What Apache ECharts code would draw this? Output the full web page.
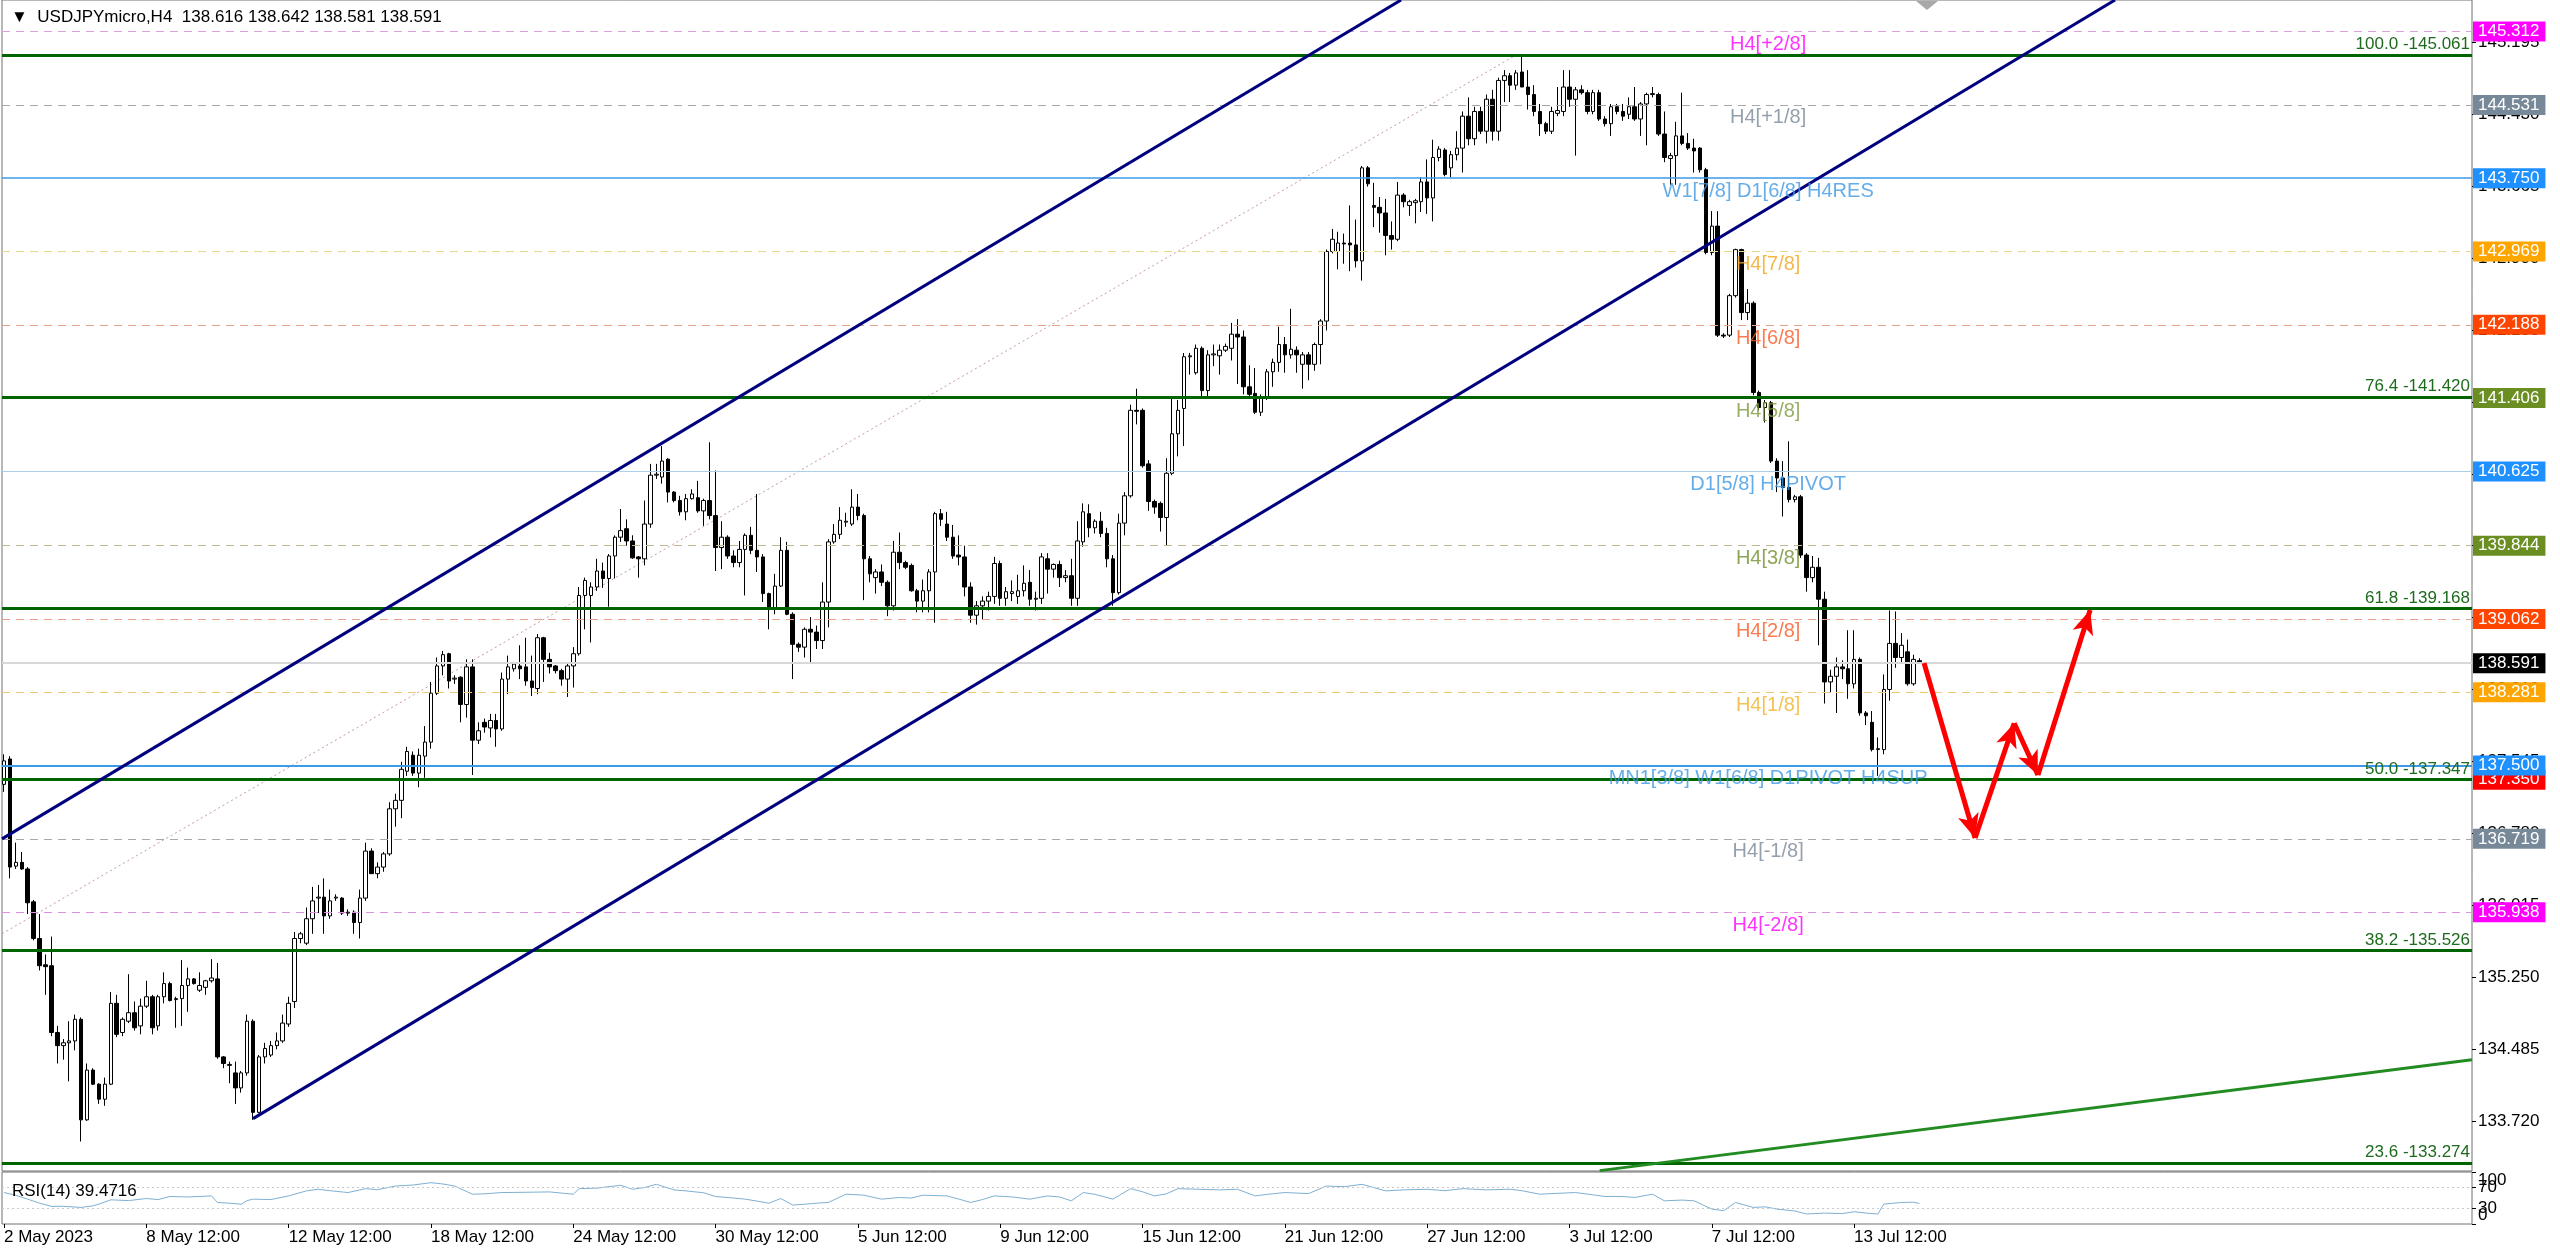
<!DOCTYPE html>
<html><head><meta charset="utf-8">
<script src="https://cdn.jsdelivr.net/npm/echarts@6/dist/echarts.min.js"></script>
<style>html,body{margin:0;padding:0;background:#fff;overflow:hidden}#c{width:2560px;height:1251px}</style>
</head><body><div id="c"></div>
<script>
// ---------------- DATA ----------------
const symbolName = 'USDJPYmicro,H4';
const timeLabels = ['2 May 2023','8 May 12:00','12 May 12:00','18 May 12:00','24 May 12:00','30 May 12:00','5 Jun 12:00','9 Jun 12:00','15 Jun 12:00','21 Jun 12:00','27 Jun 12:00','3 Jul 12:00','7 Jul 12:00','13 Jul 12:00'];
const timeLabelBars = [0,24,48,72,96,120,144,168,192,216,240,264,288,312];
const priceTicks = [133.720,134.485,135.250,136.015,136.780,137.545,138.310,139.075,139.840,140.605,141.370,142.135,142.900,143.665,144.430,145.195];
const rsiEdgeTicks = [0,100];
const rsiLevels = [30, 70];
// H4 candles: [open, high, low, close]
const ohlc = [
[137.30,137.62,137.22,137.55],[137.57,137.60,136.30,136.42],[136.43,136.68,136.40,136.47],[136.47,136.58,136.39,136.40],[136.40,136.42,135.92,136.04],
[136.05,136.07,135.64,135.66],[135.66,135.92,135.32,135.37],[135.38,135.49,135.06,135.36],[135.37,135.68,134.62,134.66],[134.66,134.73,134.33,134.52],
[134.52,134.59,134.37,134.55],[134.55,134.78,134.14,134.57],[134.57,134.85,134.47,134.80],[134.80,134.82,133.50,133.73],[133.73,134.33,133.72,134.26],
[134.26,134.28,134.10,134.11],[134.11,134.12,133.90,133.95],[133.95,134.18,133.88,134.11],[134.11,135.09,134.10,134.97],[134.97,135.06,134.61,134.64],
[134.66,134.82,134.62,134.80],[134.78,135.28,134.76,134.87],[134.87,134.99,134.68,134.71],[134.73,135.02,134.64,134.94],[134.94,135.21,134.92,135.04],
[135.04,135.06,134.64,134.71],[134.73,135.06,134.68,135.04],[135.04,135.30,134.97,135.18],[135.18,135.20,134.99,135.00],[135.01,135.04,134.71,135.02],
[135.02,135.43,134.73,135.16],[135.16,135.35,134.88,135.23],[135.23,135.24,135.17,135.18],[135.11,135.30,135.09,135.16],[135.14,135.22,135.06,135.21],
[135.21,135.44,135.19,135.24],[135.23,135.40,134.38,134.40],[134.40,134.41,134.28,134.33],[134.31,134.35,134.12,134.32],[134.23,134.35,133.90,134.07],
[134.07,134.25,134.02,134.23],[134.23,134.85,134.20,134.78],[134.78,134.80,133.73,133.81],[133.81,134.42,133.80,134.40],[134.40,134.55,134.33,134.49],
[134.42,134.57,134.40,134.52],[134.52,134.66,134.48,134.57],[134.57,134.85,134.55,134.76],[134.75,135.04,134.72,134.97],[134.99,135.73,134.92,135.66],
[135.66,135.73,135.61,135.71],[135.61,135.99,135.59,135.87],[135.87,136.21,135.71,136.06],[136.09,136.23,135.93,136.10],[136.10,136.30,135.71,135.90],
[135.90,136.18,135.87,136.06],[136.09,136.13,136.06,136.10],[136.09,136.10,135.91,135.93],[135.93,135.97,135.90,135.94],[135.94,135.96,135.71,135.83],
[135.83,136.18,135.66,136.09],[136.09,136.68,136.06,136.59],[136.59,136.62,136.35,136.35],[136.35,136.47,136.30,136.42],[136.42,136.58,136.37,136.56],
[136.56,137.11,136.54,137.04],[137.04,137.20,136.85,137.13],[137.13,137.54,136.94,137.46],[137.44,137.70,137.39,137.65],[137.61,137.65,137.39,137.42],
[137.42,137.68,137.27,137.61],[137.60,137.92,137.37,137.75],[137.75,138.39,137.68,138.27],[138.27,138.65,138.25,138.56],[138.56,138.72,138.46,138.68],
[138.69,138.70,138.32,138.40],[138.42,138.46,138.37,138.43],[138.44,138.45,137.96,138.15],[138.15,138.63,138.01,138.55],[138.55,138.63,137.40,137.77],
[137.77,137.96,137.73,137.87],
[137.96,138.00,137.85,137.91],[137.90,138.05,137.80,137.98],[137.98,138.05,137.70,137.89],[137.89,138.49,137.87,138.42],[138.42,138.67,138.26,138.55],
[138.53,138.60,138.50,138.58],[138.56,138.78,138.42,138.53],[138.55,138.86,138.35,138.40],[138.40,138.67,138.24,138.33],[138.32,138.90,138.26,138.86],
[138.86,138.87,138.39,138.63],[138.63,138.70,138.48,138.55],[138.56,138.57,138.48,138.51],[138.51,138.53,138.35,138.42],[138.42,138.58,138.23,138.56],
[138.56,138.76,138.33,138.69],[138.69,139.40,138.67,139.31],[139.31,139.50,138.95,139.47],[139.31,139.45,138.81,139.40],[139.40,139.70,139.36,139.57],
[139.57,139.66,139.39,139.49],[139.49,139.75,139.19,139.73],[139.73,139.95,139.49,139.93],[139.93,140.23,139.88,140.00],[140.02,140.12,139.84,139.89],
[139.89,139.95,139.70,139.71],[139.72,139.73,139.50,139.70],[139.70,140.32,139.63,140.07],[140.07,140.71,140.03,140.59],[140.59,140.71,140.55,140.60],
[140.57,140.90,140.50,140.74],[140.76,140.77,140.30,140.41],[140.41,140.42,140.30,140.32],[140.32,140.37,140.16,140.20],[140.20,140.39,140.11,140.34],
[140.34,140.44,140.33,140.39],[140.35,140.53,140.19,140.21],[140.21,140.34,140.05,140.32],[140.32,140.94,140.12,140.16],[140.16,140.64,139.57,139.82],
[139.82,140.10,139.59,139.93],[139.93,139.95,139.70,139.73],[139.73,139.79,139.61,139.66],[139.66,139.89,139.61,139.80],[139.80,139.97,139.31,139.95],
[139.95,140.04,139.75,139.79],[139.79,140.39,139.56,139.72],[139.72,139.75,139.24,139.33],[139.33,139.34,138.95,139.18],[139.18,139.54,139.11,139.41],
[139.41,139.93,139.40,139.79],[139.79,139.88,139.10,139.11],[139.11,139.13,138.42,138.79],[138.79,138.81,138.71,138.76],[138.76,138.97,138.65,138.95],
[138.95,139.08,138.60,138.92],[138.92,138.99,138.74,138.83],[138.83,139.45,138.74,139.24],[139.24,139.91,138.97,139.88],[139.88,140.07,139.86,139.96],
[139.96,140.25,139.91,140.11],[140.09,140.19,140.04,140.10],[140.07,140.44,140.05,140.25],[140.25,140.39,140.11,140.16],[140.16,140.18,139.26,139.70],
[139.70,139.73,139.45,139.54],[139.50,139.59,139.33,139.56],[139.56,139.64,139.41,139.45],[139.45,139.47,139.09,139.20],[139.20,139.89,139.15,139.77],
[139.77,139.98,139.59,139.66],[139.66,139.68,139.59,139.61],[139.63,139.65,139.35,139.36],[139.36,139.38,139.13,139.25],[139.25,139.48,139.13,139.36],
[139.36,139.59,139.13,139.56],[139.56,140.20,139.02,140.18],[140.18,140.23,140.05,140.12],[140.07,140.20,139.89,139.93],[139.93,140.06,139.70,139.73],
[139.74,139.95,139.63,139.72],
[139.72,139.84,139.30,139.40],[139.40,139.45,139.02,139.10],[139.10,139.25,139.00,139.20],[139.20,139.30,139.05,139.25],[139.25,139.35,139.15,139.30],
[139.30,139.72,139.22,139.65],[139.65,139.68,139.20,139.28],[139.28,139.40,139.20,139.35],[139.33,139.47,139.25,139.35],[139.30,139.53,139.22,139.36],
[139.36,139.63,139.30,139.44],[139.45,139.58,139.20,139.27],[139.27,139.35,139.15,139.28],[139.28,139.76,139.22,139.72],[139.70,139.76,139.33,139.59],
[139.59,139.65,139.50,139.64],[139.64,139.68,139.40,139.50],[139.50,139.58,139.45,139.52],[139.52,139.70,139.20,139.28],[139.28,140.10,139.20,139.89],
[139.88,140.29,139.83,140.20],[140.18,140.28,139.93,140.03],[140.03,140.12,139.97,140.10],[140.10,140.20,139.93,139.97],[139.97,140.03,139.61,139.70],
[139.70,139.74,139.20,139.34],[139.34,140.18,139.32,140.08],[140.08,140.41,139.95,140.37],[140.37,141.34,140.35,141.28],[141.28,141.51,141.13,141.27],
[141.28,141.30,140.67,140.69],[140.71,140.75,140.21,140.31],[140.31,140.33,140.18,140.25],[140.29,140.31,139.99,140.14],[140.14,140.77,139.84,140.61],
[140.61,141.41,140.59,141.03],[141.03,141.39,140.79,141.28],[141.30,141.89,140.90,141.85],[141.85,141.89,141.66,141.86],[141.68,141.98,141.66,141.94],
[141.94,141.96,141.43,141.49],[141.49,141.92,141.43,141.87],[141.87,141.98,141.75,141.88],[141.86,141.98,141.66,141.92],[141.92,141.99,141.90,141.96],
[141.94,142.21,141.81,142.09],[142.09,142.25,141.56,142.06],[142.06,142.13,141.45,141.53],[141.53,141.76,141.43,141.45],[141.46,141.73,141.24,141.26],
[141.26,141.45,141.22,141.41],[141.41,141.72,141.39,141.69],[141.69,141.83,141.53,141.79],[141.79,142.17,141.69,141.98],[141.98,142.06,141.68,141.87],
[141.87,142.36,141.83,141.93],[141.92,141.96,141.68,141.87],[141.77,141.90,141.51,141.87],[141.87,141.90,141.60,141.77],[141.77,142.00,141.70,141.98],
[141.98,142.25,141.77,142.23],[142.23,142.99,142.13,142.97],[142.97,143.21,142.95,143.10],[142.97,143.18,142.78,143.06],[143.06,143.16,142.84,143.05],
[143.06,143.46,142.76,143.04],[143.04,143.31,142.80,142.87],[142.87,143.88,142.66,143.86],[143.86,143.88,143.66,143.69],[143.46,143.70,143.23,143.44],
[143.44,143.55,143.17,143.38],[143.38,143.53,142.93,143.14],[143.14,143.29,142.99,143.10],[143.10,143.71,143.08,143.57],[143.57,143.59,143.44,143.50],
[143.46,143.52,143.35,143.50],[143.49,143.53,143.27,143.51],[143.50,143.76,143.39,143.71],[143.71,143.95,143.37,143.54],[143.54,144.16,143.29,143.97],
[143.97,144.09,143.93,144.06],
[144.05,144.07,143.77,143.79],[143.86,144.04,143.76,144.00],[144.00,144.25,143.94,144.07],[144.07,144.46,143.81,144.41],[144.41,144.61,144.10,144.17],
[144.17,144.51,144.10,144.46],[144.46,144.51,144.22,144.25],[144.25,144.64,144.12,144.59],[144.59,144.69,144.15,144.25],[144.25,144.82,144.15,144.79],
[144.79,144.90,144.56,144.84],[144.84,144.87,144.56,144.74],[144.74,144.90,144.69,144.87],[144.88,145.05,144.72,144.72],[144.72,144.90,144.48,144.64],
[144.64,144.74,144.41,144.46],[144.46,144.54,144.20,144.33],[144.33,144.35,144.22,144.25],[144.25,144.51,144.22,144.46],[144.44,144.72,144.41,144.47],
[144.46,144.90,144.41,144.72],[144.72,144.90,144.51,144.59],[144.59,144.72,143.99,144.69],[144.69,144.74,144.64,144.66],[144.66,144.69,144.43,144.46],
[144.46,144.69,144.43,144.66],[144.66,144.69,144.36,144.38],[144.38,144.41,144.30,144.33],[144.33,144.54,144.20,144.51],[144.51,144.54,144.43,144.46],
[144.46,144.54,144.36,144.41],[144.43,144.61,144.38,144.51],[144.51,144.72,144.36,144.38],[144.38,144.56,144.20,144.54],[144.54,144.66,144.10,144.64],
[144.64,144.72,144.61,144.65],[144.64,144.66,144.20,144.22],[144.22,144.46,143.92,143.97],[143.96,144.02,143.68,143.99],[143.99,144.35,143.68,144.20],
[144.20,144.66,144.10,144.12],[144.12,144.23,144.05,144.07],[144.07,144.17,143.81,144.04],[144.07,144.08,143.81,143.84],[143.84,143.86,142.94,142.96],
[142.96,143.40,142.93,143.24],[143.24,143.40,142.06,142.08],[142.08,142.10,142.05,142.07],[142.08,142.52,142.06,142.50],[142.50,143.00,142.48,142.99],
[142.99,143.00,142.24,142.32],[142.32,142.57,142.24,142.42],[142.42,142.44,141.44,141.47],[141.47,141.49,141.28,141.31],[141.31,141.39,141.15,141.36],
[141.36,141.38,140.72,140.74],[140.74,140.77,140.41,140.56],[140.56,140.74,140.15,140.46],[140.46,140.95,140.30,140.33],[140.33,140.38,140.30,140.36],
[140.36,140.38,139.71,139.74],[139.74,139.76,139.35,139.50],[139.50,139.73,139.45,139.61],[139.61,139.71,138.78,139.27],[139.27,139.35,138.16,138.39],
[138.39,138.52,138.28,138.45],[138.45,138.65,138.06,138.55],[138.55,138.62,138.42,138.53],[138.53,138.94,138.21,138.37],[138.37,138.94,138.32,138.63],
[138.63,138.65,138.03,138.06],[138.06,138.08,137.93,138.03],[137.96,138.08,137.65,137.67],[137.67,137.80,137.39,137.68],[137.67,138.47,137.62,138.31],
[138.31,139.15,138.19,138.80],[138.80,139.14,138.54,138.65],[138.65,138.91,138.60,138.78],[138.71,138.84,138.35,138.37],[138.37,138.68,138.35,138.63],
[138.616,138.642,138.581,138.591]
];
// RSI(14) readings [bar, value]
const rsiPoints = [[0,60.5],[2,55],[4,47.8],[6,40],[8,33.8],[10,34],[13,31.9],[15,35],[16,38.3],[18,46.5],[21,45],[24,49],[26,47],[28,52.9],[31,52],[35,54],[36,41.4],[38,40],[40,38],[41,45],[42,47.8],[45,47],[48,54],[51,63.7],[53,66.8],[55,64],[58,60.5],[61,68],[63,66],[66,73],[69,75],[72,79.5],[74,77],[76,73],[79,57.3],[81,58],[84,60.5],[88,61],[92,61.7],[96,57.3],[97,68],[100,69],[104,74.4],[106,66.8],[108,70],[110,76.3],[113,65.6],[115,63.7],[118,60],[120,52.9],[123,50],[125,47.8],[127,44],[129,40],[131,49],[133,36.4],[135,38],[137,40],[139,41.4],[142,57.3],[145,55.4],[148,47.8],[151,51],[153,50],[155,55.4],[159,54],[161,48],[163,41.4],[165,47],[167,54],[170,52],[173,47.8],[176,54],[178,52],[180,44.6],[182,60.5],[184,57],[187,47.8],[190,68],[192,62],[194,54],[196,58],[198,68],[201,67],[205,65.6],[208,66.8],[211,54],[213,57],[216,60.5],[220,58.5],[223,73],[226,71.7],[229,76.3],[231,70],[233,63.7],[236,65.6],[240,66.8],[243,64],[246,68],[250,65.6],[254,66.8],[256,64],[259,57.3],[262,59],[265,60.5],[268,56],[270,52.9],[273,53],[275,51],[278,57.3],[280,44.6],[283,46],[285,44.6],[288,28.7],[290,25.6],[292,41.4],[295,31.9],[297,33],[299,28.7],[302,25],[304,19.2],[307,21],[310,20],[312,23.6],[314,21],[316,19.2],[317,38.3],[320,41.4],[322,42],[323,39.4716]];
const rsiPeriod = 14;
// horizontal levels
const murreyLevels = [145.312,144.531,143.750,142.969,142.188,141.406,140.625,139.844,139.062,138.281,137.500,136.719,135.938];
const murreyNames = ['H4[+2/8]','H4[+1/8]','W1[7/8] D1[6/8] H4RES','H4[7/8]','H4[6/8]','H4[5/8]','D1[5/8] H4PIVOT','H4[3/8]','H4[2/8]','H4[1/8]','MN1[3/8] W1[6/8] D1PIVOT H4SUP','H4[-1/8]','H4[-2/8]'];
const fibLevels = [145.061,141.420,139.168,137.347,135.526,133.274];
const fibNames = ['100.0','76.4','61.8','50.0','38.2','23.6'];
const bidPrice = 138.591;
const redMark = 137.350;
// drawings (anchor points [bar, price])
const upperChannel = [[-0.34,136.72],[235.6,145.646]];
const lowerChannel = [[42,133.743],[356,145.646]];
const fibTrend = [[-0.34,135.71],[255,145.061]];
const greenTrend = [[269.1,133.19],[416.2,134.37]];
const forecastPath = [[323.8,138.59],[332.4,136.73],[339,137.95],[343,137.40],[351.8,139.155]];
const murreyLabelBar = 297.5;

// ---------------- STYLES ----------------
const FONT = 'Liberation Sans, Arial, sans-serif';
const murreyStyle = [
 {line:'#dca0dc',type:[8,6],w:1,text:'#ff00ff',box:'#ff00ff'},
 {line:'#a8a8a8',type:[8,6],w:1,text:'#7a8898',box:'#778899'},
 {line:'#3d9ae8',type:'solid',w:1.5,text:'#3f98e4',box:'#1e90ff'},
 {line:'#e8d890',type:[8,6],w:1,text:'#f3a51d',box:'#ffa500'},
 {line:'#e8a088',type:[8,6],w:1,text:'#f95a24',box:'#ff4500'},
 {line:'#9bb36b',type:[8,6],w:1,text:'#7d9a3c',box:'#6b8e23'},
 {line:'#a8d0ea',type:'solid',w:1,text:'#3f98e4',box:'#1e90ff'},
 {line:'#c0b890',type:[8,6],w:1,text:'#6f8f2c',box:'#6b8e23'},
 {line:'#e8a088',type:[8,6],w:1,text:'#f95a24',box:'#ff4500'},
 {line:'#f0c878',type:[8,6],w:1,text:'#f3b22a',box:'#ffa500'},
 {line:'#3d9ae8',type:'solid',w:2,text:'#3f98e4',box:'#1e90ff'},
 {line:'#a8a8a8',type:[8,6],w:1,text:'#7a8898',box:'#778899'},
 {line:'#e090e0',type:[8,6],w:1,text:'#ff00ff',box:'#ff00ff'}
];
function boxLabel(bg, v){
  const txt = v.toFixed(3);
  return {show:true, position:'end', distance:1, formatter:()=>txt,
    color:'#fff', backgroundColor:bg, padding:[2,6,1,5], fontSize:17, fontFamily:FONT};
}
const axisLbl = {fontSize:17, color:'#000', fontFamily:FONT};

// ---------------- BUILD ----------------
const candleData = ohlc.map((r,i)=>[i, r[0], r[3], r[2], r[1]]);
const last = ohlc[ohlc.length-1];

const levelLines = [];
levelLines.push({yAxis:redMark, lineStyle:{color:'rgba(0,0,0,0)',width:1}, label:boxLabel('#ff0000', redMark)});
murreyLevels.forEach((v,i)=>{
  const s = murreyStyle[i];
  levelLines.push({yAxis:v, lineStyle:{color:s.line,type:s.type,width:s.w}, label:boxLabel(s.box, v)});
});
levelLines.push({yAxis:bidPrice, lineStyle:{color:'#d8d8d8',type:'solid',width:2}, label:boxLabel('#000000', bidPrice)});

const fibLines = fibLevels.map((v,i)=>({yAxis:v, lineStyle:{color:'#006400',width:3,type:'solid'},
  label:{show:true, position:'insideEndTop', distance:2, formatter:fibNames[i]+' -'+v.toFixed(3),
    color:'#1d6b1d', fontSize:17, fontFamily:FONT}}));

const arrowSegs = [];
for(let i=0;i<forecastPath.length-1;i++){
  arrowSegs.push([{coord:forecastPath[i]},{coord:forecastPath[i+1]}]);
}

const X0 = -0.34, X1 = 416.2;

const option = {
  animation:false,
  backgroundColor:'#ffffff',
  title:[
    {text:'\u25BC  '+symbolName+'  '+last.map(v=>v.toFixed(3)).join(' '), left:6, top:4,
     textStyle:{fontSize:17,fontWeight:'normal',color:'#000',fontFamily:FONT}},
    {text:'RSI('+rsiPeriod+') '+rsiPoints[rsiPoints.length-1][1].toFixed(4), left:7, top:1178,
     textStyle:{fontSize:17,fontWeight:'normal',color:'#000',fontFamily:FONT}}
  ],
  grid:[
    {left:2, right:88, top:0, height:1171, show:true, borderColor:'#707070', borderWidth:1, containLabel:false},
    {left:2, right:88, top:1172, height:52, show:true, borderColor:'#707070', borderWidth:1, containLabel:false}
  ],
  xAxis:[
    {type:'value', gridIndex:0, min:X0, max:X1, show:false, axisLine:{onZero:false}},
    {type:'value', gridIndex:1, min:X0, max:X1, position:'bottom',
     axisLine:{show:false, onZero:false}, splitLine:{show:false},
     axisTick:{show:true, customValues:timeLabelBars, length:4, lineStyle:{color:'#000'}},
     axisLabel:Object.assign({show:true, customValues:timeLabelBars, margin:5, align:'left',
       formatter:(v)=>{const k=timeLabelBars.indexOf(Math.round(v)); return k>=0?timeLabels[k]:'';}}, axisLbl)}
  ],
  yAxis:[
    {type:'value', gridIndex:0, position:'right', min:133.186, max:145.646, scale:true,
     axisLine:{show:false, onZero:false}, splitLine:{show:false},
     axisTick:{show:true, customValues:priceTicks, length:4, lineStyle:{color:'#000'}},
     axisLabel:Object.assign({show:true, customValues:priceTicks, margin:6, formatter:v=>Number(v).toFixed(3)}, axisLbl)},
    {type:'value', gridIndex:1, position:'right', min:0, max:100,
     axisLine:{show:false, onZero:false}, splitLine:{show:false},
     axisTick:{show:true, customValues:rsiEdgeTicks, length:4, lineStyle:{color:'#000'}},
     axisLabel:Object.assign({show:true, customValues:rsiEdgeTicks, margin:6,
       showMinLabel:true, showMaxLabel:true,
       verticalAlignMaxLabel:'top', verticalAlignMinLabel:'bottom'}, axisLbl)},
    {type:'value', gridIndex:1, position:'right', min:0, max:100,
     axisLine:{show:false, onZero:false}, splitLine:{show:false},
     axisTick:{show:true, customValues:rsiLevels, length:4, lineStyle:{color:'#000'}},
     axisLabel:Object.assign({show:true, customValues:rsiLevels, margin:6}, axisLbl)}
  ],
  series:[
    {type:'line', xAxisIndex:0, yAxisIndex:0, data:fibTrend, showSymbol:false, symbol:'none', silent:true, z:1,
     lineStyle:{color:'#c99a9a', width:1, type:[2,3]}},
    {type:'line', xAxisIndex:0, yAxisIndex:0, data:[], silent:true, z:2,
     markLine:{silent:true, symbol:['none','none'], animation:false, data:levelLines}},
    {type:'candlestick', xAxisIndex:0, yAxisIndex:0, data:candleData, encode:{x:0, y:[1,2,3,4]},
     barWidth:4, silent:true, z:3, large:false,
     itemStyle:{color:'#ffffff', color0:'#000000', borderColor:'#000000', borderColor0:'#000000', borderWidth:1}},
    {type:'line', xAxisIndex:0, yAxisIndex:0, data:[], silent:true, z:4,
     markLine:{silent:true, symbol:['none','none'], animation:false, data:fibLines}},
    {type:'line', xAxisIndex:0, yAxisIndex:0, data:upperChannel, showSymbol:false, symbol:'none', silent:true, z:5,
     lineStyle:{color:'#00007f', width:3}},
    {type:'line', xAxisIndex:0, yAxisIndex:0, data:lowerChannel, showSymbol:false, symbol:'none', silent:true, z:5,
     lineStyle:{color:'#00007f', width:3}},
    {type:'line', xAxisIndex:0, yAxisIndex:0, data:greenTrend, showSymbol:false, symbol:'none', silent:true, z:5,
     lineStyle:{color:'#228b22', width:3}},
    {type:'scatter', xAxisIndex:0, yAxisIndex:0, silent:true, z:6, symbolSize:1,
     itemStyle:{color:'rgba(0,0,0,0)'},
     data:murreyLevels.map((v,i)=>({name:murreyNames[i], value:[murreyLabelBar, v],
       label:{color:murreyStyle[i].text}})),
     label:{show:true, position:'inside', offset:[0,13], formatter:'{b}', fontSize:20, fontFamily:FONT}},
    {type:'line', xAxisIndex:0, yAxisIndex:0, data:[], silent:true, z:7,
     markLine:{silent:true, symbol:['none','arrow'], symbolSize:[16,24], animation:false,
       lineStyle:{color:'#ff0000', width:5, type:'solid'}, label:{show:false}, data:arrowSegs}},
    {type:'line', xAxisIndex:1, yAxisIndex:1, data:rsiPoints, showSymbol:false, symbol:'none', silent:true,
     lineStyle:{color:'#7fb0d2', width:1},
     markLine:{silent:true, symbol:['none','none'], animation:false, label:{show:false},
       lineStyle:{color:'#c8c8c8', type:[2,3], width:1}, data:rsiLevels.map(v=>({yAxis:v}))}}
  ],
  graphic:[
    {type:'polygon', silent:true, shape:{points:[[1916,1],[1938,1],[1927,10]]}, style:{fill:'#a9a9a9'}}
  ]
};
const chart = echarts.init(document.getElementById('c'), null, {renderer:'canvas'});
chart.setOption(option);
</script>
</body></html>
